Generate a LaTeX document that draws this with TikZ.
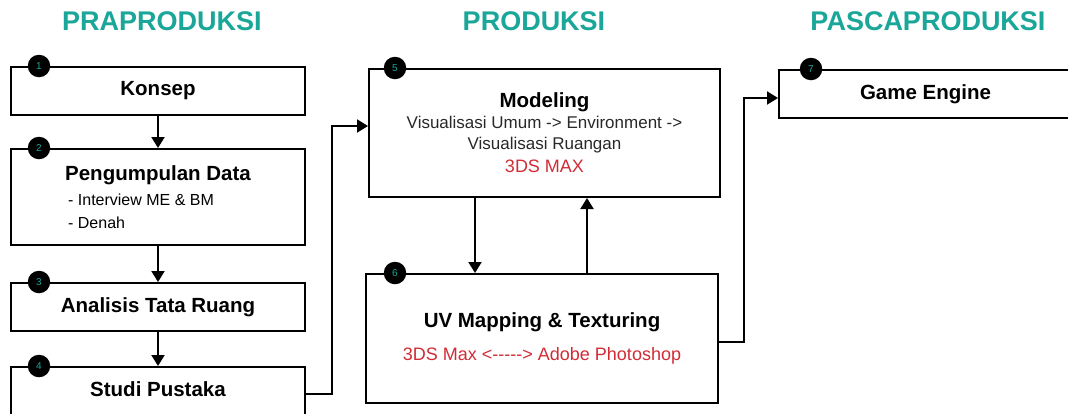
\documentclass[tikz,border=0pt]{standalone}
\usepackage{fontspec}
\setmainfont{Liberation Sans}
\usetikzlibrary{arrows.meta}

\definecolor{stageteal}{RGB}{26,166,152}
\definecolor{toolred}{RGB}{208,44,53}
\definecolor{subgray}{RGB}{40,40,40}

\newcommand{\titlefont}{\bfseries\fontsize{20.5}{24}\selectfont}

\tikzset{
  stagebox/.style={draw=black, line width=2pt, inner sep=0pt, align=center,
    minimum width=294pt, minimum height=48pt, font=\titlefont},
  numdot/.style={circle, fill=black, minimum size=22.5pt, inner sep=0pt,
    text=stageteal, font=\fontsize{10}{11}\selectfont},
  flow/.style={line width=2pt, -{Triangle[length=11pt,width=13pt]}},
  stagetitle/.style={text=stageteal, font=\bfseries\fontsize{27}{30}\selectfont}
}

\begin{document}
\begin{tikzpicture}[x=1pt, y=-1pt]
\useasboundingbox (0,0) rectangle (1068,413);

% stage headings
\node[stagetitle] (pra) at (162,21) {PRAPRODUKSI};
\node[stagetitle] (pro) at (534,21) {PRODUKSI};
\node[stagetitle] (pasca) at (928,21) {PASCAPRODUKSI};

% praproduksi column
\node[stagebox] (konsep) at (158,91) {Konsep};
\node[stagebox, minimum height=96pt, align=left, font=\fontsize{16}{23}\selectfont] (data) at (158,197)
  {{\titlefont Pengumpulan Data}\\[2pt] \hspace*{3pt}- Interview ME \& BM\\ \hspace*{3pt}- Denah};
\node[stagebox] (analisis) at (158,307) {Analisis Tata Ruang};
\node[stagebox] (pustaka) at (158,391) {\raisebox{3pt}{Studi Pustaka}};

% produksi column
\node[stagebox, minimum width=351pt, minimum height=128pt, font=\fontsize{17}{21}\selectfont] (modeling) at (544.5,133)
  {{\titlefont Modeling}\\ {\color{subgray}Visualisasi Umum -> Environment ->}\\ {\color{subgray}Visualisasi Ruangan}\\[2pt]
   {\color{toolred}\fontsize{18}{22}\selectfont 3DS MAX}};
\node[stagebox, minimum width=352pt, minimum height=129pt, font=\fontsize{18}{22}\selectfont] (uvmap) at (542,338.5)
  {{\titlefont UV Mapping \& Texturing}\\[11pt] {\color{toolred}3DS Max <-{}-{}-{}-{}-> Adobe Photoshop}};

% pascaproduksi column
\node[stagebox, minimum width=293pt] (engine) at (925.5,94) {Game Engine};

% step numbers
\node[numdot] (n1) at ([xshift=29pt]konsep.north west) {1};
\node[numdot] (n2) at ([xshift=29pt]data.north west) {2};
\node[numdot] (n3) at ([xshift=29pt]analisis.north west) {3};
\node[numdot] (n4) at ([xshift=29pt]pustaka.north west) {4};
\node[numdot] (n5) at ([xshift=27pt]modeling.north west) {5};
\node[numdot] (n6) at ([xshift=30pt]uvmap.north west) {6};
\node[numdot] (n7) at ([xshift=33pt]engine.north west) {7};

% connectors
\coordinate (modin) at ([yshift=7pt]modeling.west);
\coordinate (engin) at ([yshift=-4pt]engine.west);
\draw[flow] (konsep) -- (data);
\draw[flow] (data) -- (analisis);
\draw[flow] (analisis) -- (pustaka);
\draw[flow] ([yshift=-3pt]pustaka.east) -- ++(26,0) |- (modin);
\draw[flow] ([xshift=-69.5pt]modeling.south) -- ([xshift=-69.5pt]modeling.south |- uvmap.north);
\draw[flow] ([xshift=42.5pt]modeling.south |- uvmap.north) -- ([xshift=42.5pt]modeling.south);
\draw[flow] ([yshift=-3.5pt]uvmap.east) -- ++(25,0) |- (engin);
\end{tikzpicture}
\end{document}
